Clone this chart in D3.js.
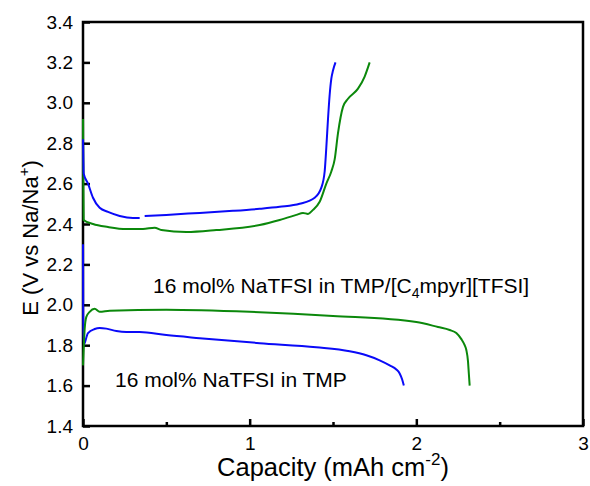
<!DOCTYPE html>
<html>
<head>
<meta charset="utf-8">
<script src="https://cdn.jsdelivr.net/npm/d3@7.9.0/dist/d3.min.js"></script>
<style>
  body { margin: 0; background: #fff; }
  svg text { font-family: "Liberation Sans", Arial, sans-serif; fill: #000; }
</style>
</head>
<body>
<svg id="chart" width="590" height="486"></svg>
<script>
// capacity (mAh cm-2) / potential (V) pairs
const tmpChargeCap = [0, 0.002, 0.004, 0.03, 0.06, 0.1, 0.15, 0.22, 0.3, 0.34, null, 0.37, 0.5, 0.7, 0.9, 1.06, 1.18, 1.3, 1.39, 1.43, 1.45, 1.46, 1.47, 1.48, 1.49, 1.5, 1.515];
const tmpChargeE   = [2.82, 2.72, 2.65, 2.6, 2.53, 2.48, 2.46, 2.44, 2.43, 2.43, null, 2.44, 2.445, 2.455, 2.465, 2.475, 2.485, 2.5, 2.53, 2.58, 2.66, 2.78, 2.92, 3.04, 3.12, 3.16, 3.2];

const tmpDischCap = [0, 0.001, 0.003, 0.03, 0.07, 0.1, 0.14, 0.2, 0.26, 0.34, 0.5, 0.7, 1.06, 1.4, 1.6, 1.7, 1.78, 1.84, 1.88, 1.9, 1.915, 1.925];
const tmpDischE   = [2.3, 2.0, 1.8, 1.86, 1.88, 1.885, 1.882, 1.87, 1.865, 1.865, 1.85, 1.835, 1.81, 1.79, 1.77, 1.75, 1.725, 1.7, 1.68, 1.66, 1.63, 1.6];

const mixChargeCap = [0, 0.002, 0.004, 0.06, 0.15, 0.26, 0.36, 0.43, 0.47, 0.62, 0.8, 1.06, 1.18, 1.28, 1.32, 1.35, 1.38, 1.42, 1.46, 1.49, 1.51, 1.53, 1.56, 1.59, 1.65, 1.69, 1.72];
const mixChargeE   = [2.92, 2.6, 2.42, 2.40, 2.385, 2.375, 2.375, 2.382, 2.37, 2.36, 2.37, 2.395, 2.42, 2.445, 2.455, 2.45, 2.47, 2.51, 2.6, 2.66, 2.72, 2.85, 2.98, 3.02, 3.07, 3.13, 3.2];

const mixDischCap = [0, 0.01, 0.02, 0.04, 0.07, 0.1, 0.16, 0.5, 1.0, 1.5, 2.0, 2.13, 2.2, 2.24, 2.27, 2.29, 2.3, 2.31, 2.315, 2.32];
const mixDischE   = [1.7, 1.88, 1.94, 1.965, 1.98, 1.965, 1.97, 1.975, 1.965, 1.945, 1.915, 1.89, 1.875, 1.86, 1.83, 1.8, 1.776, 1.72, 1.66, 1.6];

const xTicks = [0, 1, 2, 3];
const xMinorTicks = [0.5, 1.5, 2.5];
const yTicks = [1.4, 1.6, 1.8, 2.0, 2.2, 2.4, 2.6, 2.8, 3.0, 3.2, 3.4];

const blue = '#0a0af8';
const green = '#0b880b';

const svg = d3.select('#chart');
const margin = { left: 83, right: 6, top: 22, bottom: 60 };
const W = 590, H = 486;

const x = d3.scaleLinear().domain([0, 3]).range([margin.left, W - margin.right - 1]);
const y = d3.scaleLinear().domain([1.4, 3.4]).range([H - margin.bottom, margin.top]);

// zip two arrays into point objects, keeping null breaks
const pts = (xs, ys) => xs.map((v, i) => ({ c: v, e: ys[i] }));

const line = d3.line()
  .defined(d => d.c !== null)
  .x(d => x(d.c))
  .y(d => y(d.e))
  .curve(d3.curveMonotoneX);

const series = [
  { data: pts(tmpDischCap, tmpDischE), color: blue },
  { data: pts(mixDischCap, mixDischE), color: green },
  { data: pts(mixChargeCap, mixChargeE), color: green },
  { data: pts(tmpChargeCap, tmpChargeE), color: blue }
];

// frame first, curves over it
svg.append('rect')
  .attr('x', x(0)).attr('y', y(3.4))
  .attr('width', x(3) - x(0)).attr('height', y(1.4) - y(3.4))
  .attr('fill', 'none').attr('stroke', '#000').attr('stroke-width', 2.5);

// ticks inward
const xAxis = d3.axisBottom(x).tickValues(xTicks).tickSize(-7).tickPadding(11).tickFormat(d3.format('d'));
const gx = svg.append('g').attr('transform', `translate(0,${y(1.4)})`).call(xAxis);
const xMinor = d3.axisBottom(x).tickValues(xMinorTicks).tickSize(-4).tickFormat('');
const gxm = svg.append('g').attr('transform', `translate(0,${y(1.4)})`).call(xMinor);

const yAxis = d3.axisLeft(y).tickValues(yTicks).tickSize(-7).tickPadding(10).tickFormat(d3.format('.1f'));
const gy = svg.append('g').attr('transform', `translate(${x(0)},0)`).call(yAxis);

[gx, gxm, gy].forEach(g => {
  g.select('.domain').remove();
  g.selectAll('.tick line').attr('stroke', '#000').attr('stroke-width', 2.5);
  g.selectAll('.tick text').attr('font-size', 19).attr('font-family', '"Liberation Sans", Arial, sans-serif');
});

svg.selectAll('.curve')
  .data(series)
  .enter()
  .append('path')
  .attr('class', 'curve')
  .attr('d', d => line(d.data))
  .attr('fill', 'none')
  .attr('stroke', d => d.color)
  .attr('stroke-width', 2);

// annotations
const t1 = svg.append('text').attr('x', 153).attr('y', 293).attr('font-size', 21);
t1.append('tspan').text('16 mol% NaTFSI in TMP/[C');
t1.append('tspan').attr('font-size', 14).attr('dy', 5).text('4');
t1.append('tspan').attr('dy', -5).text('mpyr][TFSI]');

svg.append('text').attr('x', 115).attr('y', 387).attr('font-size', 21)
  .text('16 mol% NaTFSI in TMP');

// axis titles
const xl = svg.append('text').attr('x', 333).attr('y', 476).attr('text-anchor', 'middle').attr('font-size', 25.5);
xl.append('tspan').text('Capacity (mAh cm');
xl.append('tspan').attr('font-size', 17).attr('dy', -11).text('-2');
xl.append('tspan').attr('dy', 11).text(')');

const yl = svg.append('text')
  .attr('transform', 'translate(38,238) rotate(-90)')
  .attr('text-anchor', 'middle').attr('font-size', 22);
yl.append('tspan').text('E (V vs Na/Na');
yl.append('tspan').attr('font-size', 15).attr('dy', -9).text('+');
yl.append('tspan').attr('dy', 9).text(')');
</script>
</body>
</html>
